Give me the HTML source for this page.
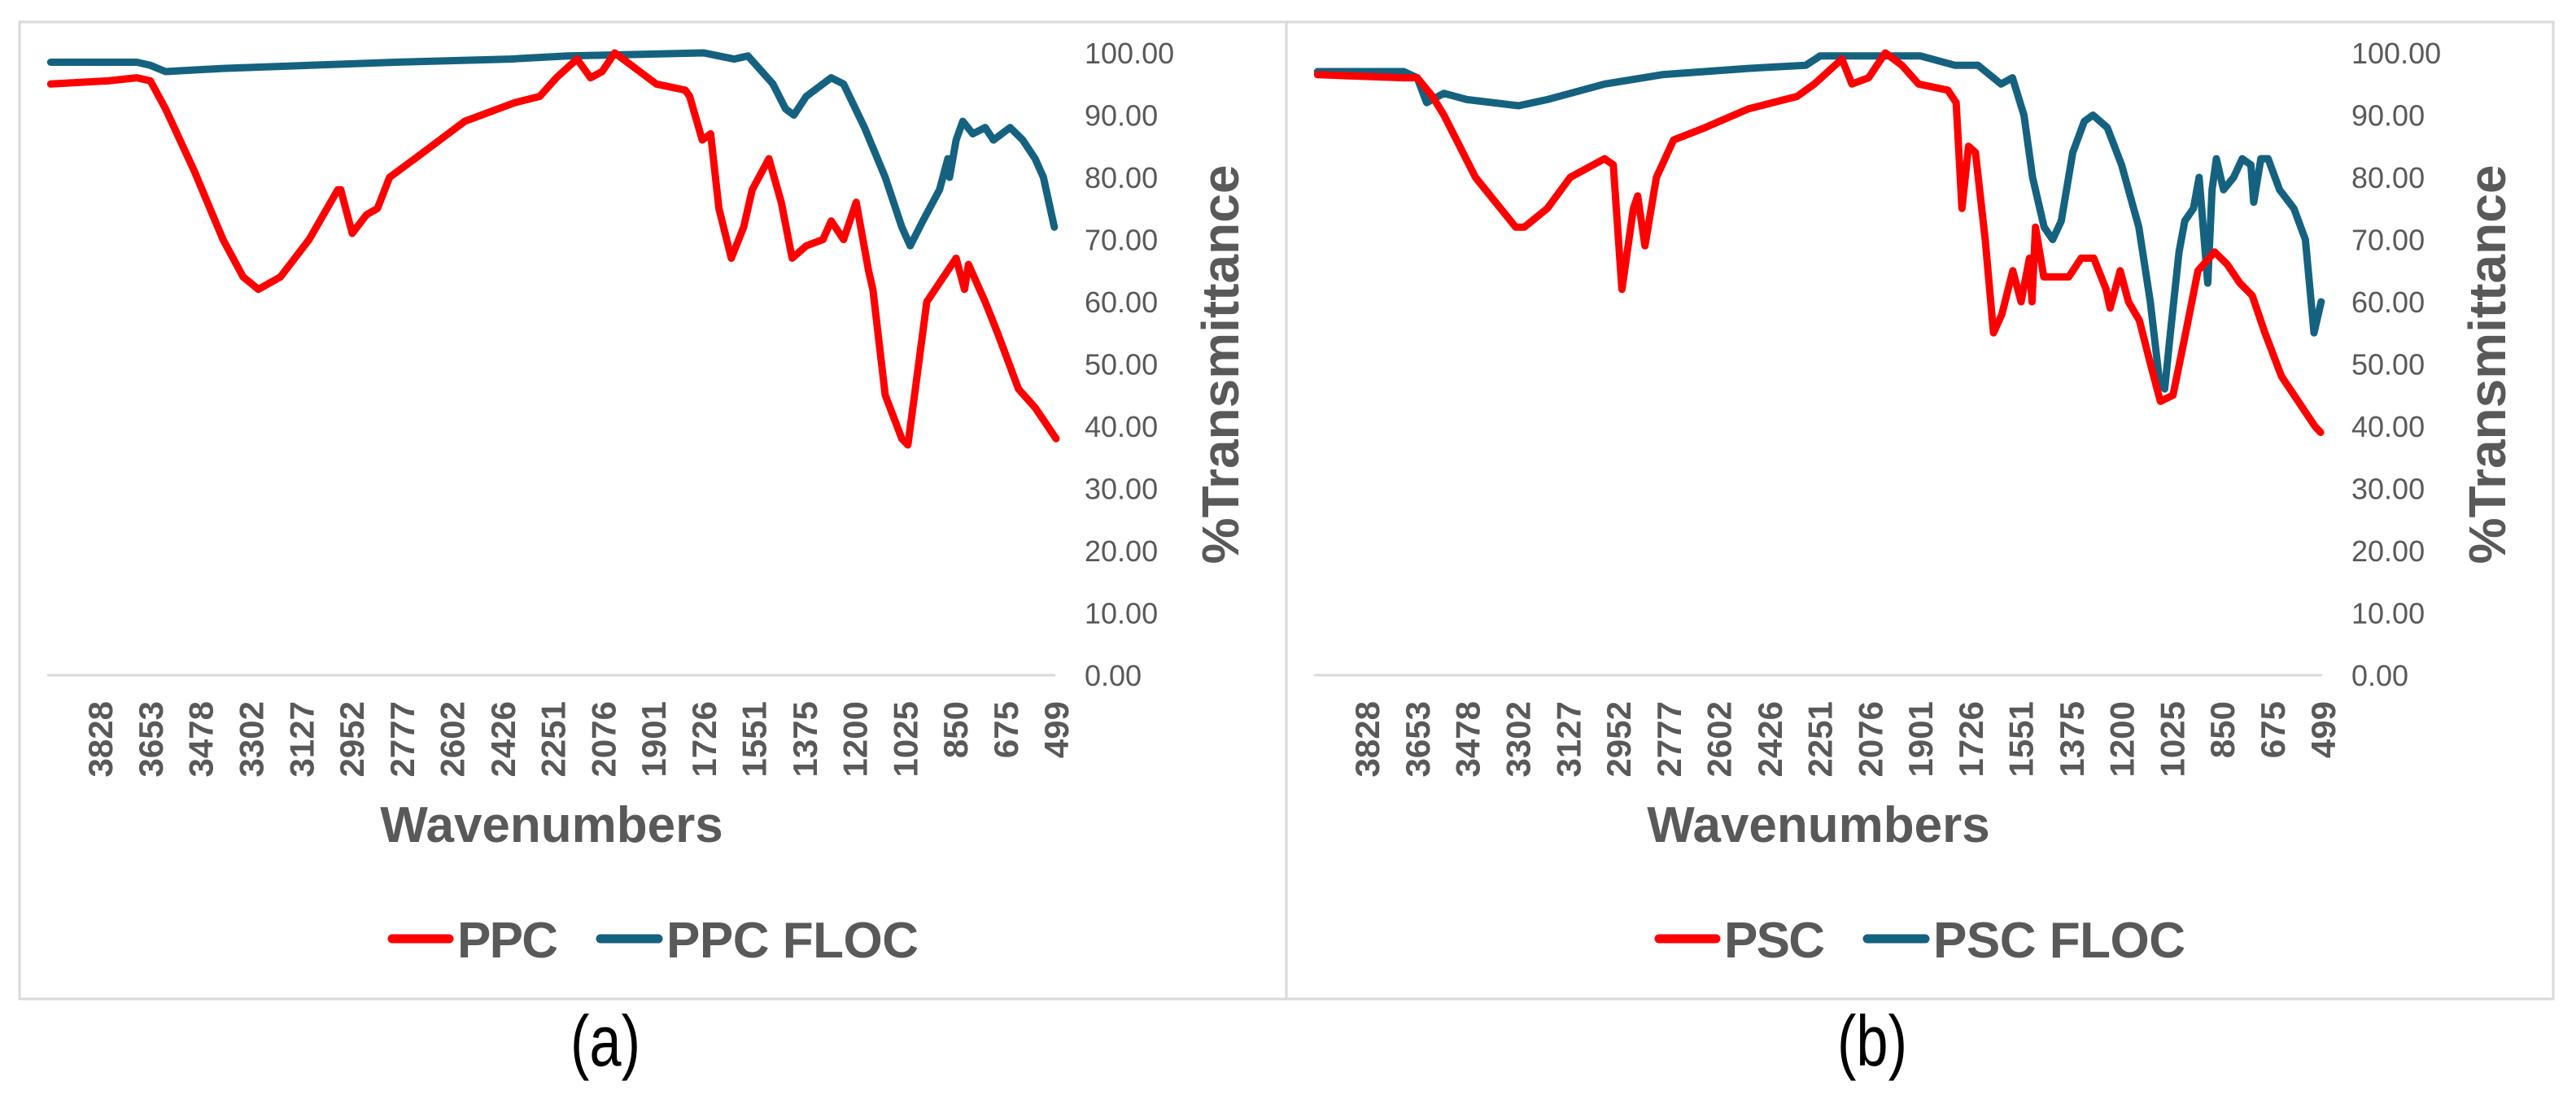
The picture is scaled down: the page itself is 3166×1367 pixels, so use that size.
<!DOCTYPE html>
<html><head><meta charset="utf-8">
<style>
html,body{margin:0;padding:0;background:#fff;}
body{width:3166px;height:1367px;position:relative;overflow:hidden;font-family:"Liberation Sans",Arial,sans-serif;}
svg{position:absolute;left:0;top:0;}
</style></head>
<body>
<svg id="fig" width="3166" height="1367" viewBox="0 0 3166 1367" xmlns="http://www.w3.org/2000/svg"></svg>
<script>
const tickLabels = [3828,3653,3478,3302,3127,2952,2777,2602,2426,2251,2076,1901,1726,1551,1375,1200,1025,850,675,499];
const yTicks = [0,10,20,30,40,50,60,70,80,90,100];

const ppcW = [4000,3800,3700,3653,3600,3500,3400,3330,3277,3200,3100,3000,2990,2950,2900,2862,2820,2732,2558,2384,2297,2239,2167,2120,2080,2036,1978,1891,1790,1775,1731,1702,1673,1630,1587,1557,1499,1456,1418,1369,1311,1282,1239,1195,1152,1137,1094,1036,1015,992,949,891,847,818,804,746,703,630,572,528,499];
const ppcV = [95,95.5,96,95.5,91,81,70,64,62,64,70,78,78,71,74,75,80,83,89,92,93,96,99,96,97,100,98,95,94,93,86,87,75,67,72,78,83,76,67,69,70,73,70,76,65,62,45,38,37,45,60,64,67,62,66,60,55,46,43,40,38];

const ppcFlocW = [4000,3700,3653,3600,3400,2800,2400,2200,1726,1620,1572,1485,1441,1412,1369,1282,1239,1166,1094,1036,1007,963,905,876,870,847,824,789,746,717,659,615,572,543,505];
const ppcFlocV = [98.5,98.5,98,97,97.5,98.5,99,99.5,100,99,99.5,95,91,90,93,96,95,88,80,72,69,73,78,83,80,86,89,87,88,86,88,86,83,80,72];

const pscW = [4000,3700,3653,3600,3560,3450,3310,3280,3200,3120,3000,2970,2940,2900,2885,2860,2820,2760,2650,2500,2330,2270,2174,2139,2081,2023,1965,1907,1805,1776,1756,1733,1709,1675,1646,1617,1579,1550,1521,1512,1500,1471,1384,1341,1297,1254,1240,1205,1176,1138,1094,1065,1021,977,934,876,832,788,745,701,643,585,527,507];
const pscV = [96.5,96,96,93,90,80,72,72,75,80,83,82,62,75,77,69,80,86,88,91,93,95,99,95,96,100,98,95,94,92,75,85,84,70,55,58,65,60,67,60,72,64,64,67,67,62,59,65,60,57,49,44,45,55,65,68,66,63,61,55,48,44,40,39];

const pscFlocW = [4000,3700,3653,3620,3560,3480,3300,3200,3000,2800,2500,2300,2250,1900,1780,1700,1620,1580,1540,1510,1470,1440,1410,1370,1330,1300,1250,1200,1140,1100,1070,1050,1030,1000,980,950,930,900,885,870,845,810,780,750,740,715,690,650,600,560,530,505];
const pscFlocV = [97,97,96,92,93.5,92.5,91.5,92.5,95,96.5,97.5,98,99.5,99.5,98,98,95,96,90,80,72,70,73,84,89,90,88,82,72,60,48,46,55,68,73,75,80,63,78,83,78,80,83,82,76,83,83,78,75,70,55,60];

const NS = 'http://www.w3.org/2000/svg';
const svg = document.getElementById('fig');
function el(tag, attrs, parent){
  const e = document.createElementNS(NS, tag);
  for (const k in attrs) e.setAttribute(k, attrs[k]);
  (parent||svg).appendChild(e);
  return e;
}
const Y0 = 830, Y100 = 65;
function yScale(v){ return Y0 - (v/100)*(Y0-Y100); }
function xScaleFor(off){ return w => off + 123 + (3828 - w)/175.21*61.84; }

function panel(off, name, redW, redV, blueW, blueV, redName, blueName, letter){
  const g = el('g', {});
  
  
  const xs = xScaleFor(off);
  const border = el('rect', {x: off+24, y: 27, width: 1557, height: 1201, fill: 'none', stroke: '#d9d9d9', 'stroke-width': 3}, g);
  
  
  const axis = el('line', {x1: off+58, x2: off+1297, y1: Y0, y2: Y0, stroke: '#d9d9d9', 'stroke-width': 3}, g);
  
  
  tickLabels.forEach(t => {
    const x = xs(t);
    const tx = el('text', {x: 0, y: 0, transform: `translate(${x+15},862) rotate(-90)`, 'text-anchor': 'end', 'font-size': 42, 'font-weight': 'bold', fill: '#595959'}, g);
    tx.textContent = t;
    
    
  });
  yTicks.forEach(t => {
    const ty = el('text', {x: off+1333, y: yScale(t)+13, 'font-size': 36, fill: '#595959'}, g);
    ty.textContent = t.toFixed(2);
    
    
  });
  const yt = el('text', {x: 0, y: 0, transform: `translate(${off+1522},448) rotate(-90)`, 'text-anchor': 'middle', 'font-size': 64, 'font-weight': 'bold', fill: '#595959'}, g);
  yt.textContent = '%Transmittance';
  
  
  const xt = el('text', {x: off+678, y: 1035, 'text-anchor': 'middle', 'font-size': 62, 'font-weight': 'bold', fill: '#595959'}, g);
  xt.textContent = 'Wavenumbers';
  
  
  function path(W, V, color, nm){
    let d = '';
    W.forEach((w,i) => { d += (i?'L':'M') + xs(w).toFixed(1) + ' ' + yScale(V[i]).toFixed(1); });
    const p = el('path', {d, fill: 'none', stroke: color, 'stroke-width': 9, 'stroke-linejoin': 'round', 'stroke-linecap': 'round'}, g);
    
    
  }
  path(blueW, blueV, '#14627f', 'series-' + blueName.toLowerCase().replace(' ','-'));
  path(redW, redV, '#ff0000', 'series-' + redName.toLowerCase());
  const l1 = el('line', {x1: off+482, x2: off+552, y1: 1154, y2: 1154, stroke: '#ff0000', 'stroke-width': 11, 'stroke-linecap': 'round'}, g);
  
  
  const t1 = el('text', {x: off+562, y: 1177, 'font-size': 62, 'font-weight': 'bold', fill: '#595959', textLength: 124}, g);
  t1.textContent = redName;
  
  
  const l2 = el('line', {x1: off+738, x2: off+809, y1: 1154, y2: 1154, stroke: '#14627f', 'stroke-width': 11, 'stroke-linecap': 'round'}, g);
  
  
  const t2 = el('text', {x: off+819, y: 1177, 'font-size': 62, 'font-weight': 'bold', fill: '#595959', textLength: 310}, g);
  t2.textContent = blueName;
  
  
  const lt = el('text', {x: off+744, y: 1310, 'text-anchor': 'middle', 'font-size': 88, fill: '#000', transform: `translate(${(off+744)*0.2},0) scale(0.8,1)`}, g);
  lt.textContent = '(' + letter + ')';
  
  
}
panel(0, 'a', ppcW, ppcV, ppcFlocW, ppcFlocV, 'PPC', 'PPC FLOC', 'a');
panel(1557, 'b', pscW, pscV, pscFlocW, pscFlocV, 'PSC', 'PSC FLOC', 'b');
</script>
</body></html>
